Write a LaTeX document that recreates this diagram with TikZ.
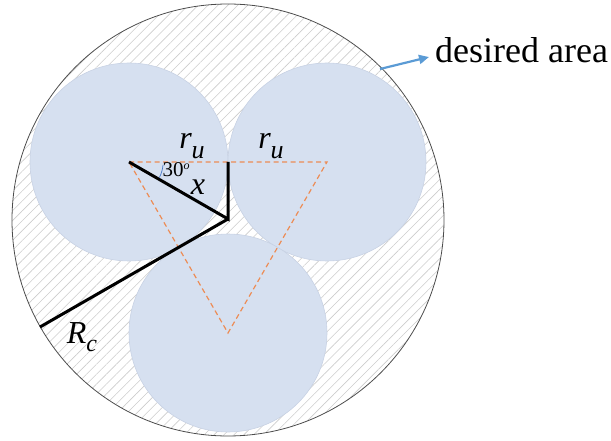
\documentclass[tikz,border=0pt]{standalone}
\usepackage{fontspec}
\setmainfont{Liberation Serif}
\usetikzlibrary{patterns.meta,arrows.meta}

\definecolor{cellfill}{RGB}{214,224,240}
\definecolor{celledge}{RGB}{200,210,228}
\definecolor{triorange}{RGB}{237,140,85}
\definecolor{arcblue}{RGB}{70,120,200}
\definecolor{arrowblue}{RGB}{91,155,213}

\begin{document}
\begin{tikzpicture}[x=1pt,y=-1pt,
    cell/.style={fill=cellfill,draw=celledge,line width=0.6pt},
    radius line/.style={line width=3pt,black,line join=miter},
    tri/.style={dash pattern=on 5pt off 3.5pt,line width=1.2pt,draw=triorange},
    lbl/.style={inner sep=0pt,font=\fontsize{32}{34}\selectfont\itshape}]
        \useasboundingbox (0,0) rectangle (611,441);

        \coordinate (O) at (228,219);
        \coordinate (c1) at (129,162);
        \coordinate (c2) at (327,162);
        \coordinate (c3) at (228,333);
        \coordinate (m) at (228,162);
        \coordinate (rim) at (40,327);
        \coordinate (a0) at (380,69);
        \coordinate (a1) at (429,57);

        \fill[pattern={Lines[angle=45,distance=7pt,line width=0.6pt]},pattern color=black!20] (228,220) circle[radius=216];
        \draw[black!70,line width=0.8pt] (228,220) circle[radius=216];

        \draw[cell] (c1) circle[radius=99];
        \draw[cell] (c2) circle[radius=99];
        \draw[cell] (c3) circle[radius=99];

        \draw[tri] (c1) -- (c2) -- (c3) -- cycle;
        \draw[radius line] (c1) -- (O) -- (m);
        \draw[radius line] (O) -- (rim);
        \draw[arcblue,line width=0.7pt] (c1) ++(34,3) arc[start angle=5,end angle=27,radius=34];

        \node[lbl] (ru1) at (192,146) {r\raisebox{-10pt}{\fontsize{26}{26}\selectfont u}};
        \node[lbl] (ru2) at (271,146) {r\raisebox{-10pt}{\fontsize{26}{26}\selectfont u}};
        \node[lbl] (xlab) at (198,187) {x};
        \node[inner sep=0pt,font=\fontsize{21}{22}\selectfont] (ang) at (176,170) {30\raisebox{7pt}{\fontsize{12}{12}\selectfont\itshape o}};
        \node[lbl,font=\fontsize{32}{34}\selectfont\itshape] (Rc) at (82,337) {R\raisebox{-8pt}{\fontsize{24}{24}\selectfont c}};

        \node[anchor=base west,inner sep=0pt,font=\fontsize{36}{40}\selectfont] (desired) at (435,63) {desired area};
        \draw[arrowblue,line width=2.2pt,-{Triangle[length=10pt,width=9pt]}] (a0) -- (a1);
\end{tikzpicture}
\end{document}
